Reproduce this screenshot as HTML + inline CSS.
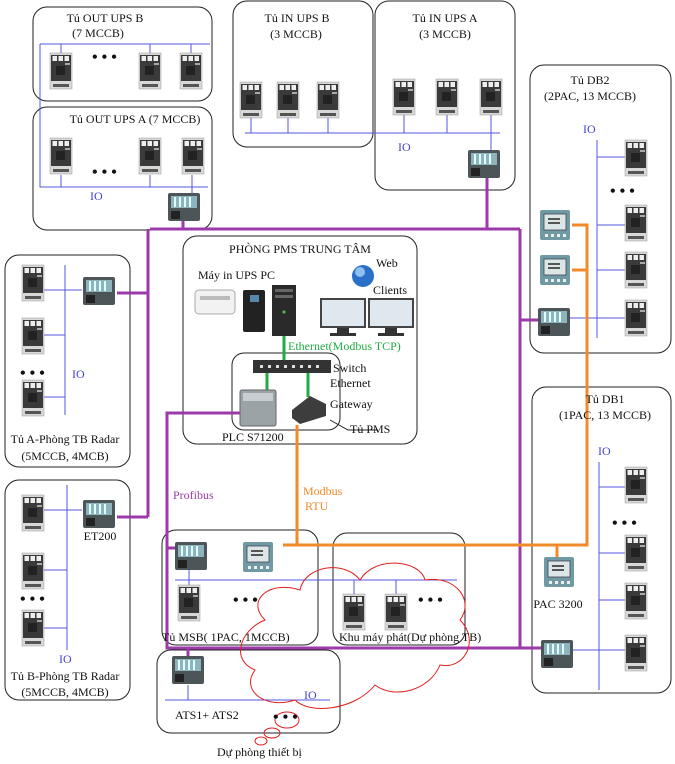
<!DOCTYPE html>
<html><head><meta charset="utf-8"><style>
html,body{margin:0;padding:0;background:#fff}
svg{display:block}
text{font-family:"Liberation Serif","DejaVu Serif",serif;font-size:12px;fill:#111}
</style></head><body>
<svg width="675" height="764" viewBox="0 0 675 764" xmlns="http://www.w3.org/2000/svg">
<defs>
<g id="mccb">
<rect x="0" y="0" width="22" height="36" fill="#d8d8d8" stroke="#999" stroke-width="0.5"/>
<rect x="1" y="2" width="20" height="26" fill="#3a3a3a"/>
<rect x="2.5" y="3" width="4.5" height="5" fill="#eee"/><rect x="8.5" y="3" width="4.5" height="5" fill="#eee"/><rect x="14.5" y="3" width="4.5" height="5" fill="#eee"/>
<rect x="6" y="13" width="9" height="9" fill="#222"/><rect x="15" y="10" width="5" height="2" fill="#aaa"/>
<rect x="3" y="31" width="16" height="3" fill="#555"/>
</g>
<g id="et">
<rect x="0" y="0" width="32" height="28" rx="2" fill="#4c5558"/>
<rect x="3" y="3" width="26" height="12" fill="#8fb3bd"/>
<rect x="6" y="4" width="2" height="10" fill="#dff"/><rect x="11" y="4" width="2" height="10" fill="#dff"/><rect x="16" y="4" width="2" height="10" fill="#dff"/><rect x="21" y="4" width="2" height="10" fill="#dff"/>
<rect x="3" y="18" width="9" height="8" fill="#222"/>
</g>
<g id="pac">
<rect x="0" y="0" width="30" height="30" rx="2" fill="#6f9aa3"/>
<rect x="4" y="4" width="22" height="16" fill="#dde6e6" stroke="#445" stroke-width="0.8"/>
<rect x="8" y="8" width="12" height="2" fill="#555"/><rect x="8" y="12" width="12" height="2" fill="#555"/>
<rect x="5" y="24" width="3" height="3" fill="#eee"/><rect x="11" y="24" width="3" height="3" fill="#eee"/><rect x="17" y="24" width="3" height="3" fill="#eee"/><rect x="23" y="24" width="3" height="3" fill="#eee"/>
</g>
</defs>
<g fill="none" stroke="#222" stroke-width="1">
<rect x="33" y="7" width="179" height="94" rx="14"/>
<rect x="33" y="107" width="179" height="123" rx="14"/>
<rect x="233" y="1" width="140" height="146" rx="14"/>
<rect x="375" y="1" width="140" height="189" rx="14"/>
<rect x="530" y="65" width="141" height="288" rx="14"/>
<rect x="532" y="387" width="139" height="306" rx="14"/>
<rect x="5" y="255" width="125" height="212" rx="14"/>
<rect x="5" y="480" width="125" height="220" rx="14"/>
<rect x="183" y="236" width="234" height="208" rx="14"/>
<rect x="232" y="353" width="108" height="77" rx="12"/>
<rect x="162" y="530" width="156" height="115" rx="14"/>
<rect x="333" y="533" width="132" height="112" rx="14"/>
<rect x="157" y="650" width="183" height="83" rx="14"/>
<path d="M330 420 L348 430 L378 430"/>
</g>
<!-- blue IO lines -->
<g stroke="#5555dd" stroke-width="1" fill="none">
<path d="M40 44 H210 M40 44 V187 H208 M61 44 V53 M150 44 V53 M191 44 V53 M61 175 V187 M150 175 V187 M192 175 V187 V195"/>
<path d="M245 133 H500 M251 118 V133 M288 118 V133 M328 118 V133 M404 115 V133 M447 115 V133 M491 115 V133 V152"/>
<path d="M65 265 V415 M42 290 H82 M42 335 H65 M42 397 H65"/>
<path d="M67 485 V650 M42 510 H82 M42 570 H67 M42 628 H67"/>
<path d="M175 580 H457 M189 568 V585 M354 580 V594 M396 580 V594"/>
<path d="M188 685 V700 M165 700 H330"/>
<path d="M597 140 V338 M597 157 H625 M597 225 H625 M597 270 H625 M570 318 H625"/>
<path d="M599 462 V690 M599 487 H625 M599 553 H625 M599 600 H625 M573 650 H625"/>
</g>
<!-- purple -->
<g stroke="#9b3aa8" stroke-width="3" fill="none">
<path d="M183 220 V229 M150 229 H520 M487 178 V229 M520 229 V648 M148 229 V517 M117 293 H148 M117 517 H148"/>
<path d="M240 413 H167 V648 H545 M520 320 H538 M167 548 H175 M188 648 V657"/>
</g>
<!-- orange -->
<g stroke="#f08a2a" stroke-width="3" fill="none">
<path d="M297 425 V545 M283 545 H587 V225 H572 M587 270 H572 M557 545 V557"/>
</g>
<!-- green -->
<g stroke="#22aa44" stroke-width="3" fill="none">
<path d="M284 336 V362 M267 373 V390 M308 373 V397"/>
</g>
<!-- red cloud -->
<g stroke="#e02020" stroke-width="1" fill="none">
<path d="M265 620 C245 600 270 580 300 590 C305 565 345 560 360 580 C375 555 420 560 425 580 C455 575 475 600 460 620 C480 640 465 670 440 665 C430 690 395 700 375 685 C355 710 310 715 295 700 C265 710 240 690 255 670 C230 660 240 630 265 620 Z"/>
<ellipse cx="287" cy="720" rx="12" ry="8"/><ellipse cx="272" cy="733" rx="8" ry="5"/><ellipse cx="261" cy="741" rx="6" ry="4"/>
</g>
<!-- MCCBs -->
<g>
<use href="#mccb" x="50" y="53"/><use href="#mccb" x="139" y="53"/><use href="#mccb" x="180" y="53"/>
<use href="#mccb" x="50" y="138"/><use href="#mccb" x="139" y="138"/><use href="#mccb" x="182" y="138"/>
<use href="#mccb" x="240" y="82"/><use href="#mccb" x="277" y="82"/><use href="#mccb" x="317" y="82"/>
<use href="#mccb" x="393" y="79"/><use href="#mccb" x="436" y="79"/><use href="#mccb" x="480" y="79"/>
<use href="#mccb" x="22" y="265"/><use href="#mccb" x="22" y="318"/><use href="#mccb" x="22" y="380"/>
<use href="#mccb" x="22" y="495"/><use href="#mccb" x="22" y="553"/><use href="#mccb" x="22" y="610"/>
<use href="#mccb" x="178" y="585"/><use href="#mccb" x="343" y="594"/><use href="#mccb" x="385" y="594"/>
<use href="#mccb" x="625" y="140"/><use href="#mccb" x="625" y="205"/><use href="#mccb" x="625" y="252"/><use href="#mccb" x="625" y="300"/>
<use href="#mccb" x="625" y="467"/><use href="#mccb" x="625" y="535"/><use href="#mccb" x="625" y="583"/><use href="#mccb" x="625" y="635"/>
<use href="#et" x="168" y="193"/><use href="#et" x="468" y="150"/><use href="#et" x="83" y="277"/><use href="#et" x="83" y="500"/>
<use href="#et" x="175" y="542"/><use href="#et" x="172" y="656"/><use href="#et" x="538" y="308"/><use href="#et" x="541" y="640"/>
<use href="#pac" x="243" y="542"/><use href="#pac" x="540" y="210"/><use href="#pac" x="540" y="255"/><use href="#pac" x="544" y="557"/>
</g>
<!-- dots -->
<g font-size="16" font-weight="bold">
<text x="92" y="62" style="font-size:16px;font-weight:bold">• • •</text>
<text x="92" y="177" style="font-size:16px;font-weight:bold">• • •</text>
<text x="20" y="378" style="font-size:16px;font-weight:bold">• • •</text>
<text x="20" y="604" style="font-size:16px;font-weight:bold">• • •</text>
<text x="233" y="605" style="font-size:16px;font-weight:bold">• • •</text>
<text x="418" y="605" style="font-size:16px;font-weight:bold">• • •</text>
<text x="273" y="722" style="font-size:16px;font-weight:bold">• • •</text>
<text x="610" y="196" style="font-size:16px;font-weight:bold">• • •</text>
<text x="612" y="528" style="font-size:16px;font-weight:bold">• • •</text>
</g>
<!-- PMS equipment -->
<rect x="195" y="290" width="40" height="24" rx="4" fill="#f2f2f2" stroke="#aaa"/>
<rect x="200" y="296" width="30" height="4" fill="#bbb"/>
<rect x="243" y="290" width="22" height="42" rx="2" fill="#222"/>
<rect x="250" y="295" width="9" height="7" fill="#58a"/>
<rect x="272" y="285" width="24" height="51" fill="#2a2a2a"/>
<rect x="275" y="289" width="18" height="3" fill="#666"/><rect x="275" y="295" width="18" height="3" fill="#666"/>
<circle cx="284" cy="312" r="1.5" fill="#4c4"/>
<circle cx="363" cy="276" r="11" fill="#2a6fc8"/><circle cx="360" cy="272" r="5" fill="#8fc0f0"/>
<g>
<rect x="320" y="298" width="46" height="30" fill="#444"/><rect x="322" y="300" width="42" height="26" fill="#dfe8ef"/>
<rect x="337" y="328" width="12" height="5" fill="#333"/><rect x="330" y="333" width="26" height="3" fill="#333"/>
<rect x="368" y="298" width="46" height="30" fill="#444"/><rect x="370" y="300" width="42" height="26" fill="#dfe8ef"/>
<rect x="385" y="328" width="12" height="5" fill="#333"/><rect x="378" y="333" width="26" height="3" fill="#333"/>
</g>
<rect x="253" y="360" width="78" height="13" fill="#333"/>
<g fill="#ddd"><rect x="260" y="365" width="3" height="3"/><rect x="268" y="365" width="3" height="3"/><rect x="276" y="365" width="3" height="3"/><rect x="284" y="365" width="3" height="3"/><rect x="292" y="365" width="3" height="3"/><rect x="300" y="365" width="3" height="3"/><rect x="308" y="365" width="3" height="3"/><rect x="316" y="365" width="3" height="3"/></g>
<rect x="240" y="390" width="36" height="36" rx="2" fill="#9aa3a6" stroke="#666"/>
<rect x="243" y="393" width="30" height="8" fill="#c7cdd0"/>
<path d="M292 410 L310 396 L326 404 L326 416 L300 424 L292 418 Z" fill="#3d3d3d"/>
<!-- text -->
<text x="105" y="22" text-anchor="middle">Tủ OUT UPS B</text>
<text x="98" y="37" text-anchor="middle">(7 MCCB)</text>
<text x="135" y="123" text-anchor="middle">Tủ OUT UPS A  (7 MCCB)</text>
<text x="90" y="200" style="fill:#4444cc">IO</text>
<text x="297" y="22" text-anchor="middle">Tủ IN UPS B</text>
<text x="296" y="38" text-anchor="middle">(3 MCCB)</text>
<text x="445" y="22" text-anchor="middle">Tủ IN UPS A</text>
<text x="445" y="38" text-anchor="middle">(3 MCCB)</text>
<text x="398" y="151" style="fill:#4444cc">IO</text>
<text x="590" y="84" text-anchor="middle">Tủ DB2</text>
<text x="590" y="100" text-anchor="middle">(2PAC, 13 MCCB)</text>
<text x="583" y="133" style="fill:#4444cc">IO</text>
<text x="605" y="403" text-anchor="middle">Tủ DB1</text>
<text x="605" y="419" text-anchor="middle">(1PAC, 13 MCCB)</text>
<text x="598" y="455" style="fill:#4444cc">IO</text>
<text x="558" y="608" text-anchor="middle">PAC 3200</text>
<text x="72" y="378" style="fill:#4444cc">IO</text>
<text x="65" y="443" text-anchor="middle">Tủ A-Phòng TB Radar</text>
<text x="65" y="460" text-anchor="middle">(5MCCB, 4MCB)</text>
<text x="100" y="540" text-anchor="middle">ET200</text>
<text x="59" y="663" style="fill:#4444cc">IO</text>
<text x="65" y="680" text-anchor="middle">Tủ B-Phòng TB Radar</text>
<text x="65" y="696" text-anchor="middle">(5MCCB, 4MCB)</text>
<text x="300" y="253" text-anchor="middle">PHÒNG PMS TRUNG TÂM</text>
<text x="198" y="279">Máy in  UPS  PC</text>
<text x="376" y="267">Web</text>
<text x="373" y="294">Clients</text>
<text x="288" y="350" style="fill:#22aa44">Ethernet(Modbus TCP)</text>
<text x="333" y="372">Switch</text>
<text x="330" y="387">Ethernet</text>
<text x="330" y="408">Gateway</text>
<text x="350" y="433">Tủ PMS</text>
<text x="222" y="441">PLC S71200</text>
<text x="173" y="499" style="fill:#9b3aa8">Profibus</text>
<text x="303" y="495" style="fill:#f08a2a">Modbus</text>
<text x="305" y="510" style="fill:#f08a2a">RTU</text>
<text x="162" y="641">Tủ MSB( 1PAC, 1MCCB)</text>
<text x="339" y="641">Khu máy phát(Dự phòng TB)</text>
<text x="304" y="699" style="fill:#4444cc">IO</text>
<text x="175" y="719">ATS1+ ATS2</text>
<text x="217" y="756">Dự phòng thiết bị</text>
</svg>
</body></html>
